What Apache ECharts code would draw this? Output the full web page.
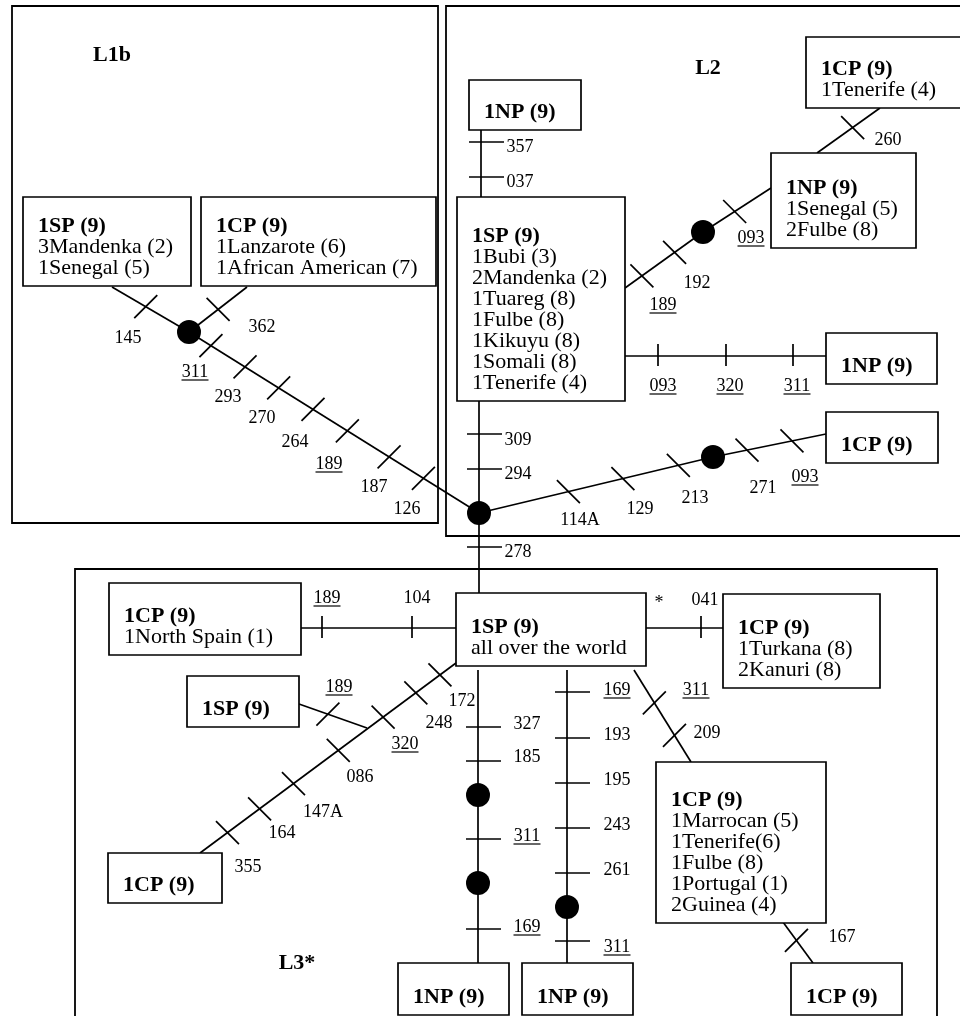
<!DOCTYPE html>
<html>
<head>
<meta charset="utf-8">
<script src="https://cdn.jsdelivr.net/npm/echarts@6/dist/echarts.min.js"></script>
<style>
html,body{margin:0;padding:0;background:#fff;}
#chart{width:960px;height:1016px;}
</style>
</head>
<body>
<div id="chart"></div>
<script>
// ---------------- DATA (diagram coordinates: x 0..960, y 0..1016 downward) ----------------
const regionNames = ['L1b', 'L2', 'L3*'];
const regionBoxes = [[12, 6, 438, 523], [446, 6, 968, 536], [75, 569, 937, 1030]];
const regionLabelAt = [[112, 55], [708, 68], [297, 963]];

const haplotypeHeaders = [
  '1SP (9)', '1CP (9)', '1NP (9)', '1SP (9)', '1CP (9)', '1NP (9)', '1NP (9)', '1CP (9)',
  '1SP (9)', '1CP (9)', '1SP (9)', '1CP (9)', '1CP (9)', '1CP (9)', '1NP (9)', '1NP (9)', '1CP (9)'
];
const haplotypeMembers = [
  ['3Mandenka (2)', '1Senegal (5)'],
  ['1Lanzarote (6)', '1African American (7)'],
  [],
  ['1Bubi (3)', '2Mandenka (2)', '1Tuareg (8)', '1Fulbe (8)', '1Kikuyu (8)', '1Somali (8)', '1Tenerife (4)'],
  ['1Tenerife (4)'],
  ['1Senegal (5)', '2Fulbe (8)'],
  [],
  [],
  ['all over the world'],
  ['1North Spain (1)'],
  [],
  ['1Turkana (8)', '2Kanuri (8)'],
  [],
  ['1Marrocan (5)', '1Tenerife(6)', '1Fulbe (8)', '1Portugal (1)', '2Guinea (4)'],
  [],
  [],
  []
];
const haplotypeBoxes = [
  [23, 197, 191, 286], [201, 197, 436, 286],
  [469, 80, 581, 130], [457, 197, 625, 401], [806, 37, 968, 108], [771, 153, 916, 248],
  [826, 333, 937, 384], [826, 412, 938, 463],
  [456, 593, 646, 666], [109, 583, 301, 655], [187, 676, 299, 727], [723, 594, 880, 688],
  [108, 853, 222, 903], [656, 762, 826, 923], [398, 963, 509, 1015], [522, 963, 633, 1015],
  [791, 963, 902, 1015]
];

// network links [x1, y1, x2, y2]
const edgeEnds = [
  [112, 287, 189, 332],   // 0
  [189, 332, 479, 513],   // 1
  [189, 332, 247, 287],   // 2
  [481, 130, 481, 197],   // 3
  [625, 288, 703, 232],   // 4
  [703, 232, 771, 188],   // 5
  [817, 153, 880, 108],   // 6
  [625, 356, 826, 356],   // 7
  [479, 401, 479, 513],   // 8
  [479, 513, 713, 457],   // 9
  [713, 457, 826, 434],   // 10
  [479, 513, 479, 593],   // 11
  [301, 628, 456, 628],   // 12
  [456, 663, 200, 853],   // 13
  [299, 704, 367, 728],   // 14
  [646, 628, 723, 628],   // 15
  [478, 670, 478, 963],   // 16
  [567, 670, 567, 963],   // 17
  [634, 670, 691, 762],   // 18
  [780, 918, 813, 963]    // 19
];

// median vectors (black dots)
const medianVectors = [[189, 332], [703, 232], [479, 513], [713, 457], [478, 795], [478, 883], [567, 907]];

// mutations: [edge, site, underlined, position on link, label position]
const mutations = [
  [0, '145', 0, [145, 308], [128, 338]],
  [2, '362', 0, [217, 308], [262, 327]],
  [1, '311', 1, [212, 344], [195, 372]],
  [1, '293', 0, [245, 367], [228, 397]],
  [1, '270', 0, [278, 389], [262, 418]],
  [1, '264', 0, [312, 411], [295, 442]],
  [1, '189', 1, [346, 433], [329, 464]],
  [1, '187', 0, [389, 457], [374, 487]],
  [1, '126', 0, [423, 479], [407, 509]],
  [3, '357', 0, [481, 142], [520, 147]],
  [3, '037', 0, [481, 177], [520, 182]],
  [4, '189', 1, [642, 276], [663, 305]],
  [4, '192', 0, [675, 253], [697, 283]],
  [5, '093', 1, [735, 212], [751, 238]],
  [6, '260', 0, [853, 128], [888, 140]],
  [7, '093', 1, [658, 356], [663, 386]],
  [7, '320', 1, [726, 356], [730, 386]],
  [7, '311', 1, [793, 356], [797, 386]],
  [8, '309', 0, [479, 434], [518, 440]],
  [8, '294', 0, [479, 469], [518, 474]],
  [11, '278', 0, [479, 547], [518, 552]],
  [9, '114A', 0, [568, 490], [580, 520]],
  [9, '129', 0, [623, 479], [640, 509]],
  [9, '213', 0, [679, 468], [695, 498]],
  [10, '271', 0, [747, 450], [763, 488]],
  [10, '093', 1, [792, 441], [805, 477]],
  [12, '189', 1, [322, 628], [327, 598]],
  [12, '104', 0, [412, 628], [417, 598]],
  [13, '172', 0, [440, 675], [462, 701]],
  [13, '248', 0, [416, 693], [439, 723]],
  [13, '320', 1, [383, 717], [405, 744]],
  [13, '086', 0, [338, 750], [360, 777]],
  [13, '147A', 0, [293, 783], [323, 812]],
  [13, '164', 0, [259, 808], [282, 833]],
  [13, '355', 0, [227, 832], [248, 867]],
  [14, '189', 1, [328, 714], [339, 687]],
  [15, '041', 0, [701, 628], [705, 600]],
  [16, '327', 0, [478, 727], [527, 724]],
  [16, '185', 0, [478, 761], [527, 757]],
  [16, '311', 1, [478, 839], [527, 836]],
  [16, '169', 1, [478, 929], [527, 927]],
  [17, '169', 1, [567, 692], [617, 690]],
  [17, '193', 0, [567, 738], [617, 735]],
  [17, '195', 0, [567, 783], [617, 780]],
  [17, '243', 0, [567, 828], [617, 825]],
  [17, '261', 0, [567, 873], [617, 870]],
  [17, '311', 1, [567, 941], [617, 947]],
  [18, '311', 1, [654, 703], [696, 690]],
  [18, '209', 0, [675, 735], [707, 733]],
  [19, '167', 0, [797, 940], [842, 937]]
];

const annotations = [['*', [659, 603]]];

// ---------------- RENDERING ----------------
const FONT = '"Liberation Serif", "Times New Roman", Times, serif';
const LW = 1.7;
const LINE_H = 21;

function txt(x, y, t, size, bold, align) {
  return {
    type: 'text', x: x, y: y,
    style: {
      text: t, fill: '#000',
      font: (bold ? 'bold ' : '') + size + 'px ' + FONT,
      align: align || 'center', verticalAlign: 'middle',
      textAlign: align || 'center', textVerticalAlign: 'middle'
    }
  };
}

function renderRegion(params, api) {
  const i = params.dataIndex;
  const b = regionBoxes[i];
  const p0 = api.coord([b[0], b[1]]);
  const p1 = api.coord([b[2], b[3]]);
  const lp = api.coord(regionLabelAt[i]);
  return {
    type: 'group',
    children: [
      { type: 'rect', shape: { x: p0[0], y: p0[1], width: p1[0] - p0[0], height: p1[1] - p0[1] },
        style: { fill: 'none', stroke: '#000', lineWidth: 1.8 } },
      txt(lp[0], lp[1], regionNames[i], 22, true, 'center')
    ]
  };
}

function renderNode(params, api) {
  const i = params.dataIndex;
  const b = haplotypeBoxes[i];
  const p0 = api.coord([b[0], b[1]]);
  const p1 = api.coord([b[2], b[3]]);
  const children = [
    { type: 'rect', shape: { x: p0[0], y: p0[1], width: p1[0] - p0[0], height: p1[1] - p0[1] },
      style: { fill: '#fff', stroke: '#000', lineWidth: LW } }
  ];
  const lines = [haplotypeHeaders[i]].concat(haplotypeMembers[i]);
  const n = lines.length;
  lines.forEach(function (t, k) {
    const y = p1[1] - 17.75 - (n - 1 - k) * LINE_H;
    children.push(txt(p0[0] + 15, y, t, 22, k === 0, 'left'));
  });
  return { type: 'group', children: children };
}

function renderEdge(params, api) {
  const a = api.coord([api.value(0), api.value(1)]);
  const b = api.coord([api.value(2), api.value(3)]);
  return { type: 'line', shape: { x1: a[0], y1: a[1], x2: b[0], y2: b[1] },
    style: { stroke: '#000', lineWidth: LW } };
}

function renderMutation(params, api) {
  const m = mutations[params.dataIndex];
  const e = edgeEnds[m[0]];
  const A = api.coord([e[0], e[1]]);
  const B = api.coord([e[2], e[3]]);
  const P = api.coord(m[3]);
  const dx = B[0] - A[0], dy = B[1] - A[1];
  const len2 = dx * dx + dy * dy;
  const t = ((P[0] - A[0]) * dx + (P[1] - A[1]) * dy) / len2;
  const cx = A[0] + t * dx, cy = A[1] + t * dy;
  let seg;
  if (Math.abs(dx) < 0.5) {
    seg = { x1: cx - 12, y1: cy, x2: cx + 23, y2: cy };
  } else if (Math.abs(dy) < 0.5) {
    seg = { x1: cx, y1: cy - 12, x2: cx, y2: cy + 10 };
  } else {
    const h = 11.5;
    const s = (dy / dx) > 0 ? -1 : 1; // '/' on falling links, '\' on rising links
    seg = { x1: cx - h, y1: cy - s * h, x2: cx + h, y2: cy + s * h };
  }
  const L = api.coord(m[4]);
  const children = [
    { type: 'line', shape: seg, style: { stroke: '#000', lineWidth: LW } },
    txt(L[0], L[1], m[1], 18, false, 'center')
  ];
  if (m[2]) {
    const w = m[1].length * 9;
    children.push({ type: 'line', shape: { x1: L[0] - w / 2, y1: L[1] + 8, x2: L[0] + w / 2, y2: L[1] + 8 },
      style: { stroke: '#000', lineWidth: 1.2 } });
  }
  return { type: 'group', children: children };
}

function renderAnnotation(params, api) {
  const a = annotations[params.dataIndex];
  const p = api.coord(a[1]);
  return txt(p[0], p[1], a[0], 18, false, 'center');
}

const chart = echarts.init(document.getElementById('chart'), null, { renderer: 'canvas' });
chart.setOption({
  animation: false,
  backgroundColor: '#fff',
  grid: { left: 0, right: 0, top: 0, bottom: 0 },
  xAxis: { type: 'value', min: 0, max: 960, show: false },
  yAxis: { type: 'value', min: 0, max: 1016, inverse: true, show: false },
  series: [
    { type: 'custom', name: 'regions', renderItem: renderRegion, clip: false, z: 1,
      data: regionBoxes.map(function (b) { return b.slice(); }), encode: { x: [0, 2], y: [1, 3] } },
    { type: 'custom', name: 'links', renderItem: renderEdge, clip: false, z: 2,
      data: edgeEnds.map(function (e) { return e.slice(); }), encode: { x: [0, 2], y: [1, 3] } },
    { type: 'custom', name: 'mutations', renderItem: renderMutation, clip: false, z: 3,
      data: mutations.map(function (m) { return [m[3][0], m[3][1]]; }), encode: { x: 0, y: 1 } },
    { type: 'custom', name: 'haplotypes', renderItem: renderNode, clip: false, z: 4,
      data: haplotypeBoxes.map(function (b) { return b.slice(); }), encode: { x: [0, 2], y: [1, 3] } },
    { type: 'scatter', name: 'median vectors', symbol: 'circle', symbolSize: 24, z: 5,
      itemStyle: { color: '#000', opacity: 1 }, emphasis: { disabled: true },
      data: medianVectors.map(function (p) { return p.slice(); }) },
    { type: 'custom', name: 'notes', renderItem: renderAnnotation, clip: false, z: 5,
      data: annotations.map(function (a) { return [a[1][0], a[1][1]]; }), encode: { x: 0, y: 1 } }
  ]
});
</script>
</body>
</html>
